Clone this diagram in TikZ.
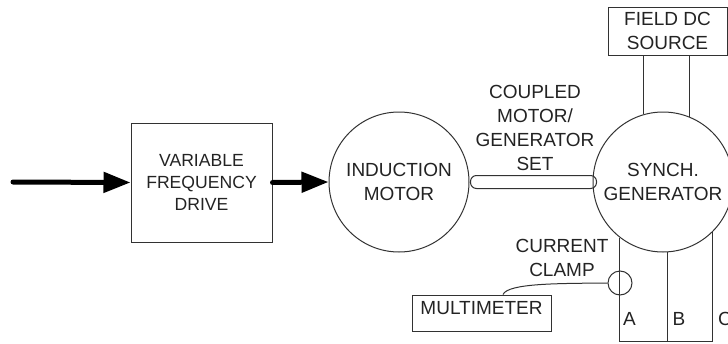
\documentclass[tikz,border=0pt]{standalone}
\usepackage{fontspec}
\setmainfont{Liberation Sans}
\usetikzlibrary{arrows.meta,calc}
\definecolor{inkline}{RGB}{50,50,50}
\definecolor{inktext}{RGB}{35,35,35}
\begin{document}
\begin{tikzpicture}[x=1pt,y=-1pt,
  every node/.style={text=inktext, font=\fontsize{19}{24}\selectfont, align=center},
  thinline/.style={draw=inkline, line width=1pt},
  block/.style={thinline, rectangle, inner sep=0pt},
  machine/.style={thinline, circle, minimum size=140pt, inner sep=0pt},
  power/.style={draw=black, line width=5pt, line cap=round, -{Triangle[length=27pt,width=20pt]}},
  lbl/.style={inner sep=0pt},
]
\useasboundingbox (0,0) rectangle (728,343);
\clip (0,0) rectangle (728,343);

% blocks and machines
\node[block, minimum width=141pt, minimum height=119pt, font=\fontsize{17.6}{22}\selectfont] (vfd) at (201.5,182.5) {VARIABLE\\FREQUENCY\\DRIVE};
\node[machine] (im) at (399,182) {INDUCTION\\MOTOR};
\node[machine] (gen) at (663,182) {SYNCH.\\GENERATOR};
\node[block, minimum width=119pt, minimum height=48pt] (field) at (667.5,31) {FIELD DC\\SOURCE};
\node[block, minimum width=139pt, minimum height=36pt, text height=13.6pt, text depth=10pt] (mm) at (481.5,313) {MULTIMETER};
\node[thinline, circle, minimum size=24pt, inner sep=0pt] (clamp) at (620,283) {};

% labels
\node[lbl] (shaftlbl) at (535,128) {COUPLED\\MOTOR/\\GENERATOR\\SET};
\node[lbl] (clamplbl) at (562,258) {CURRENT\\CLAMP};
\node[lbl] (pa) at (629.5,318.5) {A};
\node[lbl] (pb) at (679,318.5) {B};
\node[lbl] (pc) at (725,318.5) {C};

% power flow
\coordinate (src) at (13,182);
\draw[power] (src) -- (vfd.west);
\draw[power] (vfd.east) -- (im.west);

% coupling shaft
\draw[thinline, rounded corners=6pt] ($(im.east)+(1,-6.5)$) rectangle ($(gen.west)+(4,6.5)$);

% field supply leads
\draw[thinline] (gen.106.6) -- (gen.106.6 |- field.south);
\draw[thinline] (gen.68.2) -- (gen.68.2 |- field.south);

% output phases
\coordinate (floor) at (0,341.5);
\draw[thinline] (gen.232) -- (gen.232 |- floor) -- (gen.315.6 |- floor) -- (gen.315.6);
\draw[thinline] (gen.274) -- (gen.274 |- floor);

% clamp lead to meter
\draw[thinline] (clamp.west) .. controls (560,283.5) and (508,283) .. ($(mm.north)+(21.5,0)$);
\end{tikzpicture}
\end{document}
